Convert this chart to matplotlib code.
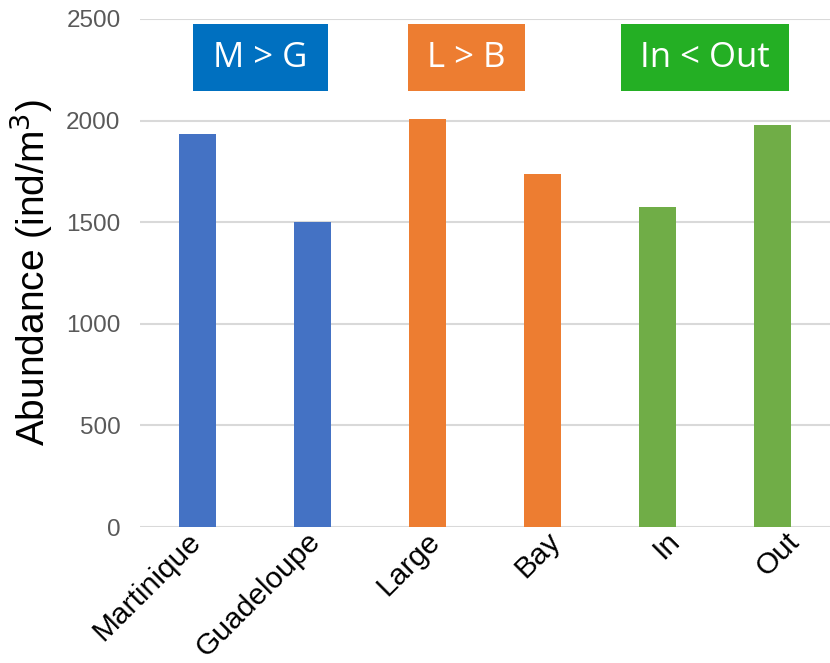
import matplotlib
matplotlib.use("Agg")
import matplotlib.pyplot as plt
import matplotlib.transforms as mtransforms
from matplotlib.patches import Rectangle

plt.rcParams["font.family"] = ["Liberation Sans", "DejaVu Sans"]

# 数据
SITES = ["Martinique", "Guadeloupe", "Large", "Bay", "In", "Out"]
ABUNDANCE = [1935, 1500, 2008, 1737, 1575, 1978]
BAR_COLORS = ["#4472C4", "#4472C4", "#ED7D31", "#ED7D31", "#70AD47", "#70AD47"]
Y_TICKS = [0, 500, 1000, 1500, 2000, 2500]

# 比较标签（文字, 颜色, 左右x范围）
COMPARE_LABELS = ["M > G", "L > B", "In < Out"]
COMPARE_COLORS = ["#0070C0", "#ED7D31", "#24AF24"]
COMPARE_X = [(-0.04, 1.135), (1.83, 2.85), (3.68, 5.14)]

W, H = 830, 663
fig = plt.figure(figsize=(W / 100, H / 100), dpi=100)
ax = fig.add_axes([140 / W, (H - 527) / H, 690 / W, (527 - 19) / H])

x = list(range(len(SITES)))
ax.bar(x, ABUNDANCE, width=0.32, color=BAR_COLORS, zorder=3)

ax.set_xlim(-0.5, len(SITES) - 0.5)
ax.set_ylim(0, 2500)
ax.set_yticks(Y_TICKS)
ax.set_yticklabels([str(t) for t in Y_TICKS], fontsize=17.5, color="#595959")
ax.set_xticks(x)
ax.set_xticklabels(SITES, fontsize=21.5, rotation=45, ha="right",
                   rotation_mode="anchor", color="black")
ax.tick_params(axis="both", length=0)
ax.tick_params(axis="y", pad=14)
ax.tick_params(axis="x", pad=0)
# Excel 的斜标签间距略大于柱间距，逐个微调
for i, lbl in enumerate(ax.get_xticklabels()):
    dx = (-11 + 4.8 * i) / 100
    shift = mtransforms.ScaledTranslation(dx, 0, fig.dpi_scale_trans)
    lbl.set_transform(lbl.get_transform() + shift)

ax.grid(axis="y", color="#D9D9D9", linewidth=1.5, zorder=0)
for s in ax.spines.values():
    s.set_visible(False)

ax.set_ylabel("Abundance (ind/m$^3$)", fontsize=28, labelpad=8)

# 比较标注框
y0, y1 = 2146, 2475
for txt, col, (x0, x1) in zip(COMPARE_LABELS, COMPARE_COLORS, COMPARE_X):
    ax.add_patch(Rectangle((x0, y0), x1 - x0, y1 - y0, facecolor=col,
                           edgecolor="none", zorder=4, clip_on=False))
    ax.text((x0 + x1) / 2, (y0 + y1) / 2, txt, color="white", fontsize=25,
            family=["Open Sans", "DejaVu Sans"], ha="center", va="center", zorder=5)

fig.savefig("out.png", dpi=100)
